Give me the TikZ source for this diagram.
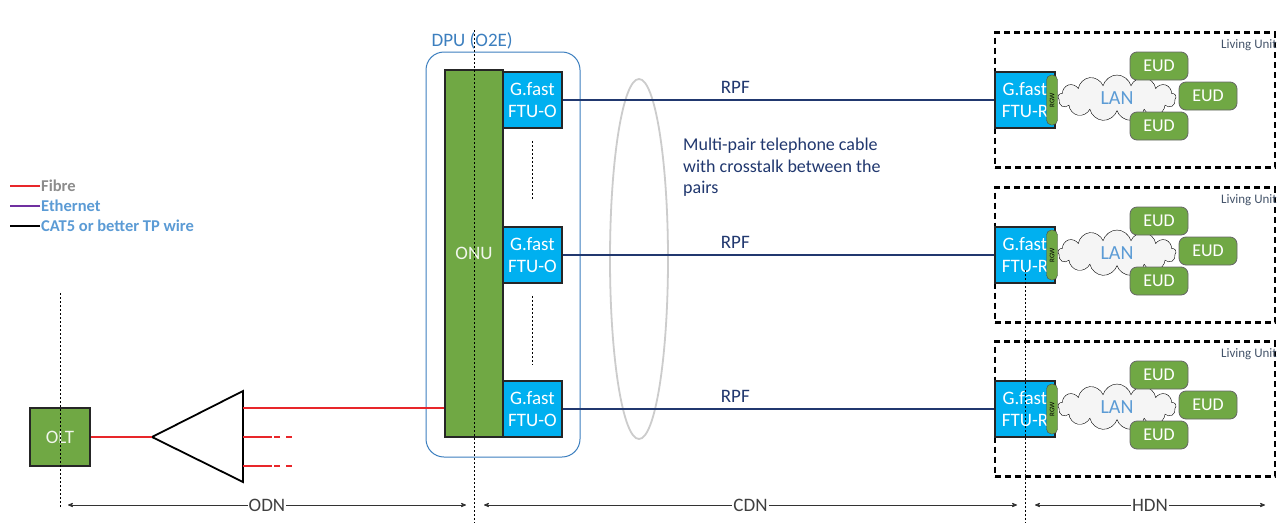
\documentclass[tikz,border=0pt]{standalone}
\usepackage{fontspec}
\setmainfont{Carlito}
\usepackage{tikz}
\usetikzlibrary{arrows,positioning,shapes.symbols}
\definecolor{nodegreen}{HTML}{70A844}
\definecolor{ftucyan}{HTML}{00B0F0}
\definecolor{pairnavy}{HTML}{21386F}
\definecolor{dpublue}{HTML}{3C7FBF}
\definecolor{labelblue}{HTML}{5B9BD5}
\definecolor{fibrered}{HTML}{E8262A}
\definecolor{ethpurple}{HTML}{7030A0}
\definecolor{unitgray}{HTML}{44546A}
\tikzset{
    greenbox/.style={rectangle, draw=black!85, line width=1.6pt,
        fill=nodegreen, text=white!90!nodegreen, inner sep=0pt,
        font=\fontsize{19}{22}\selectfont},
    ftubox/.style={rectangle, draw=black!85, line width=1.6pt, fill=ftucyan,
        text=white, align=center, minimum width=59pt, minimum height=56pt,
        inner sep=0pt, font=\fontsize{19}{22}\selectfont},
    eudbox/.style={rectangle, rounded corners=7pt, draw=black!60, thick,
        fill=nodegreen, text=white, minimum width=58pt, minimum height=28pt,
        inner sep=0pt, font=\fontsize{18}{20}\selectfont},
    rgwbox/.style={rectangle, rounded corners=5pt, draw=black!70,
        fill=nodegreen, minimum width=11pt, minimum height=50pt, inner sep=0pt},
    lanbox/.style={cloud, cloud puffs=13, draw=black, fill=gray!8,
        text=labelblue, minimum width=118pt, minimum height=46pt, aspect=2.6,
        inner sep=0pt, font=\fontsize{20}{22}\selectfont},
    unitbox/.style={rectangle, draw=black, dash pattern=on 6pt off 4pt,
        line width=2.6pt, minimum width=280pt, minimum height=135pt},
    fibre/.style={draw=fibrered, line width=2.6pt},
    pair/.style={draw=pairnavy, line width=1.8pt},
    cutline/.style={black, dash pattern=on 2pt off 2pt, line width=0.7pt},
    span/.style={<->, >=stealth', line width=0.8pt, black!80},
    spanlabel/.style={fill=white, inner sep=1pt, text=black!75,
        font=\fontsize{19}{22}\selectfont},
    legend/.style={anchor=west, inner sep=1pt,
        font=\fontsize{16.5}{18}\selectfont\bfseries}
}

\begin{document}
\begin{tikzpicture}[x=1pt, y=-1pt]
    \useasboundingbox[fill=white] (0,0) rectangle (1278,523);

    % legend
    \node[legend, text=gray!90] (lgfibre) at (40,186) {Fibre};
    \node[legend, text=labelblue] (lgeth) at (40,206) {Ethernet};
    \node[legend, text=labelblue] (lgcat) at (40,226) {CAT5 or better TP wire};
    \draw[fibre, line width=2pt] (lgfibre.west) -- ++(-30,0);
    \draw[ethpurple, line width=2pt] (lgeth.west) -- ++(-30,0);
    \draw[black, line width=2pt] (lgcat.west) -- ++(-30,0);

    % OLT and splitter
    \node[greenbox, minimum width=60pt, minimum height=58pt] (olt) at (60,437) {OLT};
    \draw[line width=1.8pt] (152,437) coordinate (split) -- (243,391)
        -- (243,482) -- cycle;
    \coordinate (out1) at (243,408);
    \coordinate (out2) at (243,437);
    \coordinate (out3) at (243,466);
    \draw[fibre] (olt) -- (split);

    % DPU
    \node[rectangle, rounded corners=18pt, draw=dpublue, line width=1pt,
        minimum width=154pt, minimum height=405pt] (dpu) at (503,254.5) {};
    \node[anchor=south west, inner sep=1pt, text=dpublue,
        font=\fontsize{19}{22}\selectfont] (dpulabel)
        at ([xshift=5pt, yshift=1pt]dpu.north west) {DPU (O2E)};
    \node[greenbox, minimum width=58pt, minimum height=367pt] (onu) at (474,253.5) {ONU};
    \draw[fibre] (out1) -- (out1 -| onu.west);
    \draw[fibre] (out2) -- ++(29,0);
    \draw[fibre] (out3) -- ++(29,0);
    \draw[fibre, dash pattern=on 6pt off 6pt] ([xshift=31pt]out2) -- ++(18,0);
    \draw[fibre, dash pattern=on 6pt off 6pt] ([xshift=31pt]out3) -- ++(18,0);

    % multi-pair cable
    \draw[gray!40, line width=1.8pt] (639,259) ellipse (29 and 180);
    \node[anchor=north west, align=left, inner sep=0pt, text=pairnavy,
        font=\fontsize{18}{21.5}\selectfont] (cablenote) at (683,138)
        {Multi-pair telephone cable\\with crosstalk between the\\pairs};

    % lines and living units
    \foreach \i/\y in {1/100, 2/255, 3/409} {
        \node[unitbox] (unit\i) at (1135,\y) {};
        \node[anchor=east, inner sep=0pt, text=unitgray,
            font=\fontsize{13}{15}\selectfont] (unitlabel\i)
            at (1277,\y-55) {Living Unit};
        \node[ftubox] (ftuo\i) at (532.5,\y) {G.fast\\FTU-O};
        \node[ftubox, minimum width=60pt] (ftur\i) at (1025,\y) {G.fast\\FTU-R};
        \node[lanbox] (lan\i) at (1117,\y-2) {LAN};
        \node[rgwbox] (rgw\i) at (1052,\y) {};
        \node[rotate=90, inner sep=0pt, font=\fontsize{7}{8}\selectfont]
            at (rgw\i) {RGW};
        \node[eudbox] (euda\i) at (1159,\y-34) {EUD};
        \node[eudbox] (eudb\i) at (1208,\y-4) {EUD};
        \node[eudbox] (eudc\i) at (1159,\y+26) {EUD};
        \path (ftuo\i) edge[pair] node[above, pos=0.4, yshift=2pt, text=pairnavy,
            font=\fontsize{19}{22}\selectfont] {RPF} (ftur\i);
    }
    \draw[cutline] ([yshift=-12pt]ftuo1.south) -- ([yshift=26pt]ftuo2.north);
    \draw[cutline] ([yshift=-12pt]ftuo2.south) -- ([yshift=15pt]ftuo3.north);

    % domain borders
    \draw[cutline] (60,293) -- (60,508);
    \draw[cutline] (474,30) -- (474,523);
    \draw[cutline] (1025,270) -- (1025,523);

    % spans
    \coordinate (odnl) at (68,505);
    \coordinate (odnr) at (466,505);
    \coordinate (cdnl) at (484,505);
    \coordinate (cdnr) at (1017,505);
    \coordinate (hdnl) at (1035,505);
    \coordinate (hdnr) at (1265,505);
    \path (odnl) edge[span] node[spanlabel] {ODN} (odnr)
        (cdnl) edge[span] node[spanlabel] {CDN} (cdnr)
        (hdnl) edge[span] node[spanlabel] {HDN} (hdnr);
\end{tikzpicture}
\end{document}
